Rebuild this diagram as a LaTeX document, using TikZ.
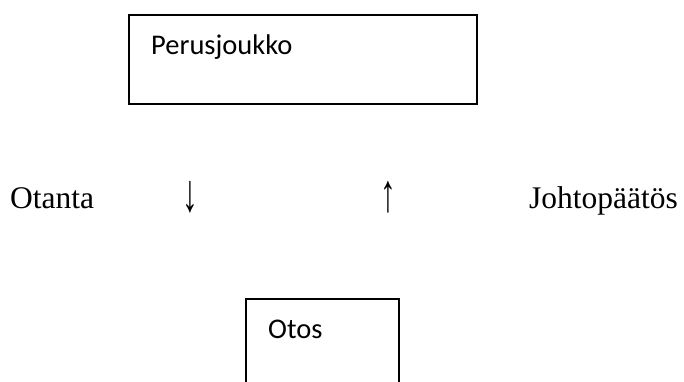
\documentclass[tikz,border=0pt]{standalone}
\usepackage{fontspec}
\usepackage{graphicx}
\setmainfont{Liberation Serif}
\newfontfamily\boxfont{Carlito}
\newcommand{\tallglyph}[1]{\scalebox{1}[1.7]{#1}}
\begin{document}
\begin{tikzpicture}[x=1pt,y=1pt,
  frame/.style={draw=black, line width=1.4pt, inner sep=0pt, outer sep=0pt},
  boxlabel/.style={anchor=base west, inner sep=0pt, font=\boxfont\fontsize{28.5}{30}\selectfont},
  rowlabel/.style={anchor=base west, inner sep=0pt, font=\fontsize{31.5}{34}\selectfont},
  rowarrow/.style={anchor=south, inner sep=0pt, font=\fontsize{31.5}{34}\selectfont}]
  % page area; the lower box runs off the bottom edge
  \clip (0,0) rectangle (684,-381);
  \fill[white] (0,0) rectangle (684,-381);

  % population box
  \node[frame, minimum width=348pt, minimum height=89pt] (pop) at (303,-59.5) {};
  \node[boxlabel] (poptext) at (151,-54) {Perusjoukko};

  % middle row: sampling and inference
  \node[rowlabel] (sampling) at (10,-208) {Otanta};
  \node[rowarrow] (down) at (190,-213) {\tallglyph{↓}};
  \node[rowarrow] (up) at (388,-213) {\tallglyph{↑}};
  \node[rowlabel] (inference) at (529,-208) {Johtopäätös};

  % sample box, open towards the bottom edge
  \node[frame, minimum width=153pt, minimum height=160pt] (sample) at (322.5,-379) {};
  \node[boxlabel] (sampletext) at (268,-338) {Otos};
\end{tikzpicture}
\end{document}
